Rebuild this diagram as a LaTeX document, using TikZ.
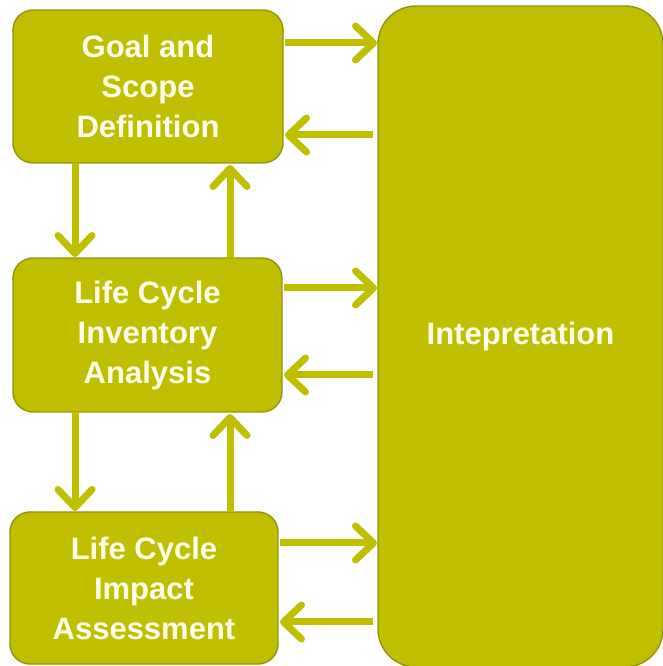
\documentclass[tikz,border=0pt]{standalone}
\usepackage{fontspec}
\setmainfont{Liberation Sans}
\usetikzlibrary{arrows.meta}

\definecolor{olive}{HTML}{BFBF00}
\definecolor{oliveline}{HTML}{94940C}
\definecolor{cream}{HTML}{FFFFEC}

\begin{document}
\begin{tikzpicture}[x=1pt,y=1pt,
    stage/.style={draw=oliveline, line width=1.4pt, fill=olive, rounded corners=20pt,
      inner sep=0pt, outer sep=0pt, align=center, text=cream,
      font=\fontsize{31}{40}\selectfont\bfseries},
    flow/.style={draw=olive, line width=7pt,
      -{Straight Barb[length=18pt,width=34pt,line width=7pt,round]}}]
  \useasboundingbox (0,0) rectangle (662,666);

  \node[stage, minimum width=270pt, minimum height=153pt] (goal) at (148,579.5)
    {Goal and\\Scope\\Definition};
  \node[stage, minimum width=269pt, minimum height=154pt] (lci) at (147.5,331)
    {Life Cycle\\Inventory\\Analysis};
  \node[stage, minimum width=268pt, minimum height=152pt] (lcia) at (144,78)
    {Life Cycle\\Impact\\Assessment};
  \node[stage, rounded corners=38pt, minimum width=285pt, minimum height=661pt] (interp)
    at (520.5,329.5) {Intepretation};

  % to and from the interpretation box
  \foreach \n/\up/\down in {goal/43.5/48.5, lci/47/40, lcia/45/34} {
    \coordinate (out) at ([yshift=\up]\n.east);
    \coordinate (back) at ([yshift=-\down]\n.east);
    \draw[flow, shorten <=2pt, shorten >=1pt] (out) -- (out -| interp.west);
    \draw[flow, shorten <=5pt, shorten >=2pt] (back -| interp.west) -- (back);
  }

  % down and up between the stages
  \foreach \a/\b in {goal/lci, lci/lcia} {
    \draw[flow, shorten >=1pt] (\a.south -| 75,0) -- (\b.north -| 75,0);
    \draw[flow, shorten >=2pt] (\b.north -| 230,0) -- (\a.south -| 230,0);
  }
\end{tikzpicture}
\end{document}
